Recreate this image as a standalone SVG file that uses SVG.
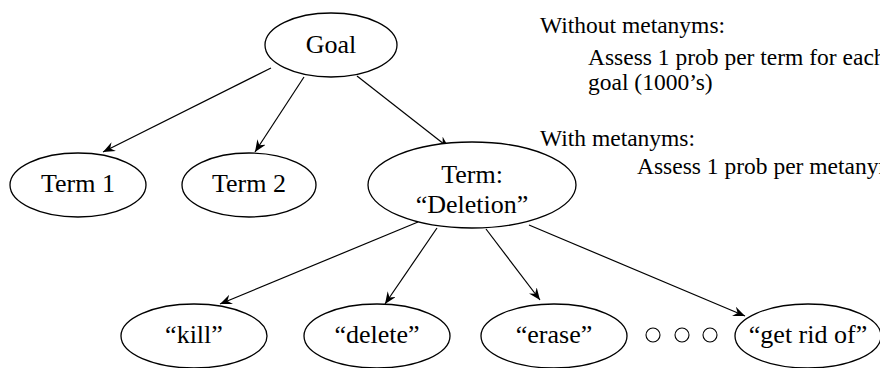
<svg xmlns="http://www.w3.org/2000/svg" width="880" height="368" viewBox="0 0 880 368">
  <style>
    .node ellipse { fill: #ffffff; stroke: #000000; stroke-width: 1.3; }
    .node text { text-anchor: middle; fill: #000000; }
    .edge { stroke: #000000; stroke-width: 1.2; fill: none; marker-end: url(#arrow); }
    .dot { fill: #ffffff; stroke: #000000; stroke-width: 1.1; }
  </style>
  <defs>
    <marker id="arrow" viewBox="0 0 12 10" refX="12" refY="5" markerWidth="12" markerHeight="10" markerUnits="userSpaceOnUse" orient="auto">
      <path d="M0,0 L12,5 L0,10 L4,5 Z" fill="#000000"/>
    </marker>
  </defs>
  <rect width="880" height="368" fill="#ffffff"/>

  <g id="connectors">
    <line class="edge" x1="271" y1="68" x2="103" y2="152"/>
    <line class="edge" x1="304" y1="77" x2="255" y2="152"/>
    <line class="edge" x1="357" y1="76" x2="449" y2="148"/>
    <line class="edge" x1="418" y1="222" x2="220" y2="304"/>
    <line class="edge" x1="437" y1="228" x2="385" y2="304"/>
    <line class="edge" x1="486" y1="229" x2="540" y2="300"/>
    <line class="edge" x1="529" y1="225" x2="745" y2="316"/>
  </g>

  <g font-family="Liberation Serif" font-size="26">
    <g id="goal" class="node">
      <ellipse cx="331" cy="45" rx="66" ry="32"/>
      <text x="331" y="53">Goal</text>
    </g>
    <g id="term1" class="node">
      <ellipse cx="78" cy="185" rx="68" ry="32"/>
      <text x="78" y="192">Term 1</text>
    </g>
    <g id="term2" class="node">
      <ellipse cx="249" cy="185" rx="67" ry="32"/>
      <text x="249" y="192">Term 2</text>
    </g>
    <g id="term-deletion" class="node">
      <ellipse cx="472" cy="185" rx="104" ry="43"/>
      <text x="472" y="183">Term:</text>
      <text x="472" y="213">“Deletion”</text>
    </g>
    <g id="kill" class="node">
      <ellipse cx="194" cy="336" rx="73" ry="32"/>
      <text x="194" y="343">“kill”</text>
    </g>
    <g id="delete" class="node">
      <ellipse cx="377" cy="336" rx="73" ry="32"/>
      <text x="377" y="343">“delete”</text>
    </g>
    <g id="erase" class="node">
      <ellipse cx="554" cy="336" rx="73" ry="32"/>
      <text x="554" y="343">“erase”</text>
    </g>
    <g id="get-rid-of" class="node">
      <ellipse cx="808" cy="336" rx="73" ry="32"/>
      <text x="808" y="343">“get rid of”</text>
    </g>
  </g>

  <g id="ellipsis">
    <circle class="dot" cx="653" cy="335" r="7"/>
    <circle class="dot" cx="682" cy="335" r="7"/>
    <circle class="dot" cx="710" cy="335" r="7"/>
  </g>

  <g id="notes" font-family="Liberation Serif" font-size="23.5" fill="#000000">
    <text x="540" y="33">Without metanyms:</text>
    <text x="588" y="65">Assess 1 prob per term for each</text>
    <text x="588" y="90">goal (1000’s)</text>
    <text x="540" y="146">With metanyms:</text>
    <text x="637" y="174">Assess 1 prob per metanym</text>
  </g>
</svg>
